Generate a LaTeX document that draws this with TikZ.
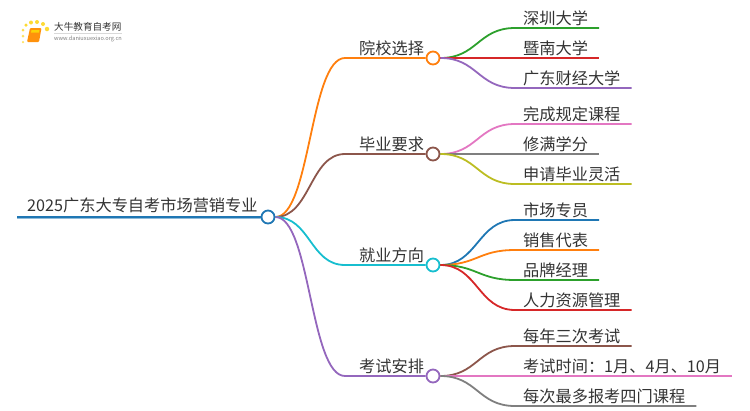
\documentclass[tikz,border=0pt]{standalone}
\usepackage{fontspec}
\setmainfont{Noto Sans CJK SC}
\definecolor{TextColor}{RGB}{51,51,51}
\definecolor{RootColor}{RGB}{31,119,180}
\definecolor{OrangeLine}{RGB}{255,127,14}
\definecolor{GreenLine}{RGB}{44,160,44}
\definecolor{RedLine}{RGB}{214,39,40}
\definecolor{PurpleLine}{RGB}{148,103,189}
\definecolor{BrownLine}{RGB}{140,86,75}
\definecolor{PinkLine}{RGB}{227,119,194}
\definecolor{GreyLine}{RGB}{127,127,127}
\definecolor{OliveLine}{RGB}{188,189,34}
\definecolor{CyanLine}{RGB}{23,190,207}
\usetikzlibrary{positioning}
\tikzset{
  link/.style={line width=1.8pt},
  hub/.style={circle, fill=white, line width=1.8pt, minimum size=13pt, inner sep=0pt},
  topic/.style={anchor=south west, font=\fontsize{16.2}{16}\selectfont, text=TextColor, text height=13pt, text depth=3pt, inner ysep=0.5pt, inner xsep=0pt},
  branch/.style={topic, inner xsep=14pt},
  leaf/.style={topic, inner xsep=8pt, execute at end node={\hspace{3pt}}},
  dot/.style={circle, inner sep=0pt, fill=#1}
}
\begin{document}
\begin{tikzpicture}[x=1pt, y=-1pt]
  \useasboundingbox (0,0) rectangle (750,410);

  % Logo
  \node[dot=yellow!70!orange!60, minimum size=2.5pt] (d1) at (23,42) {};
  \node[dot=yellow!70!orange!60, minimum size=3pt] (d2) at (23,36) {};
  \node[dot=yellow!70!orange!70, minimum size=3pt] (d3) at (23,30) {};
  \node[dot=yellow!70!orange!80, minimum size=3.5pt] (d4) at (26,25) {};
  \node[dot=yellow!70!orange!80, minimum size=4pt] (d5) at (31,22.5) {};
  \node[dot=yellow!70!orange!80, minimum size=4pt] (d6) at (37,22) {};
  \node[dot=yellow!70!orange!80, minimum size=4pt] (d7) at (43,24) {};
  \node[dot=yellow!70!orange!80, minimum size=4.5pt] (d8) at (47,29) {};
  \fill[OrangeLine!85!yellow, rounded corners=1pt] (30,28) -- (41.5,28) -- (39,42) -- (27,42) -- cycle;
  \fill[yellow!70!orange] (31.5,30) -- (39.5,30) -- (39,32.5) -- (31,32.5) -- cycle;
  \node[anchor=west, inner sep=0pt, font=\fontsize{9.6}{10}\selectfont, text=TextColor] (logoname) at (54,27) {大牛教育自考网};
  \node[anchor=west, inner sep=0pt, font=\fontsize{5.6}{6}\selectfont, text=GreyLine] (logourl) at (54,39) {www.daniuxuexiao.org.cn};
  \draw[black!15, thin] (logoname.south west) ++(0,1.5) -- ++(68,0);

  % Root
  \node[topic, inner xsep=10pt, inner ysep=2.5pt] (subject) at (17,217) {2025广东大专自考市场营销专业};
  \node[hub, draw=RootColor] (root) at (268,217) {};
  \draw[RootColor!50, line width=3pt] (subject.south west) -- (root.west);
  \draw[RootColor, line width=1.8pt] (subject.south west) -- (root.west);

  % Schools
  \node[branch] (schools) at (345,58) {院校选择};
  \node[hub, draw=OrangeLine] (schoolshub) at (433,58) {};
  \draw[link, OrangeLine] (root.east) .. controls +(35,0) and +(-35,0) .. (schools.south west) -- (schoolshub.west);
  \node[leaf] (szu) at (515,28) {深圳大学};
  \node[leaf] (jnu) at (515,58) {暨南大学};
  \node[leaf] (gdufe) at (515,88) {广东财经大学};
  \draw[link, GreenLine] (schoolshub.east) .. controls +(37,0) and +(-37,0) .. (szu.south west) -- (szu.south east);
  \draw[link, RedLine] (schoolshub.east) -- (jnu.south west) -- (jnu.south east);
  \draw[link, PurpleLine] (schoolshub.east) .. controls +(37,0) and +(-37,0) .. (gdufe.south west) -- (gdufe.south east);

  % Graduation
  \node[branch] (graduate) at (345,154) {毕业要求};
  \node[hub, draw=BrownLine] (graduatehub) at (433,154) {};
  \draw[link, BrownLine] (root.east) .. controls +(35,0) and +(-35,0) .. (graduate.south west) -- (graduatehub.west);
  \node[leaf] (courses) at (515,124) {完成规定课程};
  \node[leaf] (credits) at (515,154) {修满学分};
  \node[leaf] (apply) at (515,184) {申请毕业灵活};
  \draw[link, PinkLine] (graduatehub.east) .. controls +(37,0) and +(-37,0) .. (courses.south west) -- (courses.south east);
  \draw[link, GreyLine] (graduatehub.east) -- (credits.south west) -- (credits.south east);
  \draw[link, OliveLine] (graduatehub.east) .. controls +(37,0) and +(-37,0) .. (apply.south west) -- (apply.south east);

  % Careers
  \node[branch] (career) at (345,265) {就业方向};
  \node[hub, draw=CyanLine] (careerhub) at (433,265) {};
  \draw[link, CyanLine] (root.east) .. controls +(35,0) and +(-35,0) .. (career.south west) -- (careerhub.west);
  \node[leaf] (market) at (515,220) {市场专员};
  \node[leaf] (sales) at (515,250) {销售代表};
  \node[leaf] (brand) at (515,280) {品牌经理};
  \node[leaf] (hr) at (515,310) {人力资源管理};
  \draw[link, RootColor] (careerhub.east) .. controls +(37,0) and +(-37,0) .. (market.south west) -- (market.south east);
  \draw[link, OrangeLine] (careerhub.east) .. controls +(37,0) and +(-37,0) .. (sales.south west) -- (sales.south east);
  \draw[link, GreenLine] (careerhub.east) .. controls +(37,0) and +(-37,0) .. (brand.south west) -- (brand.south east);
  \draw[link, RedLine] (careerhub.east) .. controls +(37,0) and +(-37,0) .. (hr.south west) -- (hr.south east);

  % Exams
  \node[branch] (exams) at (345,376) {考试安排};
  \node[hub, draw=PurpleLine] (examshub) at (433,376) {};
  \draw[link, PurpleLine] (root.east) .. controls +(35,0) and +(-35,0) .. (exams.south west) -- (examshub.west);
  \node[leaf] (yearly) at (515,346) {每年三次考试};
  \node[leaf] (dates) at (515,376) {考试时间：1月、4月、10月};
  \node[leaf] (limit) at (515,406) {每次最多报考四门课程};
  \draw[link, BrownLine] (examshub.east) .. controls +(37,0) and +(-37,0) .. (yearly.south west) -- (yearly.south east);
  \draw[link, PinkLine] (examshub.east) -- (dates.south west) -- (dates.south east);
  \draw[link, GreyLine] (examshub.east) .. controls +(37,0) and +(-37,0) .. (limit.south west) -- (limit.south east);
\end{tikzpicture}
\end{document}
